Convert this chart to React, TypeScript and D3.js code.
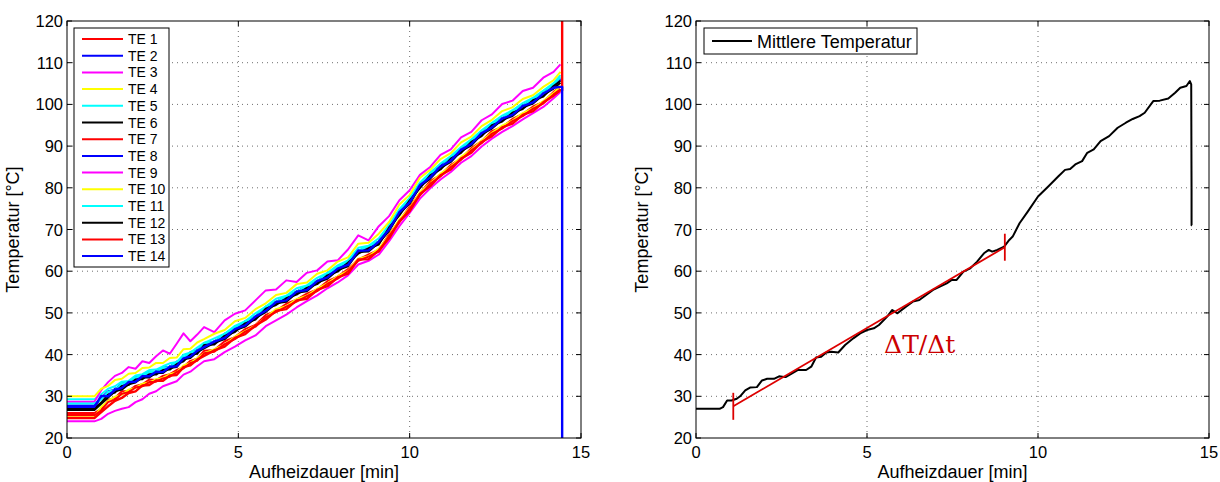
import React from 'react';
import * as d3 from 'd3';

// ---------- data ----------
const timeMin = [0, 0.8, 1.0, 1.2, 1.4, 1.6, 1.8, 2.0, 2.2, 2.4, 2.6, 2.8, 3.0, 3.2, 3.4, 3.6, 3.8, 4.0, 4.3, 4.6, 4.9, 5.2, 5.5, 5.8, 6.1, 6.4, 6.7, 7.0, 7.3, 7.6, 7.9, 8.2, 8.5, 8.8, 9.1, 9.4, 9.7, 10.0, 10.3, 10.6, 10.9, 11.2, 11.5, 11.8, 12.1, 12.4, 12.7, 13.0, 13.3, 13.6, 13.9, 14.2, 14.4];

const te1 = [26, 26, 27.0, 29.1, 29.6, 31.2, 31.3, 32.5, 32.9, 34.0, 33.9, 34.9, 35.3, 36.3, 37.0, 38.5, 39.0, 40.9, 41.1, 43.2, 44.2, 46.1, 47.1, 49.5, 50.5, 52.2, 53.2, 54.6, 55.6, 57.6, 58.7, 60.5, 62.8, 64.0, 65.1, 68.9, 72.1, 75.5, 78.7, 81.6, 83.1, 85.5, 87.0, 89.5, 91.2, 93.6, 94.6, 96.5, 97.7, 99.5, 100.6, 103.0, 104.3];
const te2 = [27.8, 27.8, 29.6, 31.2, 31.6, 33.1, 33.4, 34.6, 34.8, 35.9, 35.9, 36.9, 37.1, 38.3, 39.0, 40.6, 40.9, 42.8, 43.1, 45.0, 46.1, 48.0, 49.1, 51.5, 52.6, 54.0, 55.1, 56.5, 57.6, 59.5, 60.6, 62.4, 64.8, 66.0, 67.1, 71.0, 74.1, 77.5, 80.6, 83.5, 85.1, 87.4, 89.1, 91.4, 93.1, 95.4, 96.6, 98.4, 99.6, 101.4, 102.6, 104.9, 106.2];
const te3 = [24, 24, 24.6, 25.8, 26.5, 27.0, 27.4, 28.6, 29.3, 30.6, 31.2, 32.4, 33.0, 33.6, 35.2, 35.9, 37.2, 38.4, 38.9, 40.6, 41.9, 43.4, 44.6, 46.8, 48.2, 49.6, 51.3, 52.8, 54.2, 55.9, 57.3, 59.0, 61.6, 62.5, 64.0, 67.2, 70.8, 74.0, 77.4, 79.9, 82.0, 83.8, 86.0, 87.6, 89.9, 91.8, 93.4, 94.8, 96.4, 97.9, 99.4, 101.5, 103.0];
const te4 = [25, 25, 27.5, 28.9, 29.9, 30.4, 31.6, 32.0, 33.0, 33.3, 34.1, 34.4, 35.3, 35.8, 37.4, 38.0, 39.1, 40.3, 41.3, 42.4, 44.3, 45.6, 47.0, 48.9, 50.9, 51.6, 53.3, 54.1, 55.8, 57.1, 58.8, 60.1, 63.0, 63.6, 65.4, 68.6, 72.4, 75.1, 78.9, 81.1, 83.4, 85.1, 87.4, 89.1, 91.3, 93.2, 94.9, 96.1, 97.9, 99.1, 100.8, 102.7, 104.5];
const te5 = [29.3, 29.3, 30.5, 31.8, 32.4, 33.5, 33.7, 35.0, 35.3, 36.3, 36.4, 37.2, 37.9, 38.2, 40.0, 40.5, 41.7, 42.8, 43.9, 45.0, 46.9, 48.0, 49.9, 51.5, 53.4, 54.1, 55.9, 56.6, 58.4, 59.6, 61.4, 62.6, 65.6, 66.1, 67.9, 71.1, 74.9, 77.6, 81.3, 83.6, 85.8, 87.6, 89.8, 91.6, 93.8, 95.6, 97.3, 98.6, 100.3, 101.6, 103.3, 105.1, 107.0];
const te6 = [26.7, 26.7, 28.2, 29.7, 31.2, 31.6, 32.9, 33.3, 34.5, 34.5, 35.6, 35.6, 36.8, 37.0, 38.9, 39.2, 40.6, 41.5, 42.8, 43.7, 45.8, 46.7, 48.8, 50.2, 52.3, 52.7, 54.8, 55.2, 57.3, 58.2, 60.3, 61.2, 64.6, 64.7, 66.8, 69.7, 73.8, 76.2, 80.3, 82.2, 84.8, 86.2, 88.8, 90.2, 92.8, 94.2, 96.3, 97.2, 99.3, 100.2, 102.3, 103.8, 105.2];
const te7 = [25.5, 25.5, 26.6, 28.6, 29.2, 30.6, 31.0, 32.1, 32.4, 33.4, 33.5, 34.3, 34.7, 35.8, 36.7, 38.0, 38.5, 40.3, 40.7, 42.5, 43.7, 45.5, 46.7, 49.0, 50.2, 51.5, 52.7, 54.0, 55.2, 57.0, 58.2, 60.0, 62.5, 63.5, 64.7, 68.5, 71.7, 75.0, 78.2, 81.0, 82.7, 85.0, 86.7, 89.0, 90.7, 93.0, 94.2, 96.0, 97.2, 99.0, 100.2, 102.4, 103.6];
const te8 = [27.2, 27.2, 29.9, 30.3, 31.8, 32.3, 33.5, 33.9, 34.9, 35.1, 36.0, 36.2, 37.2, 37.5, 39.3, 39.8, 41.1, 42.1, 43.2, 44.3, 46.2, 47.3, 49.2, 50.8, 52.7, 53.3, 55.2, 55.8, 57.7, 58.8, 60.7, 61.8, 65.0, 65.3, 67.2, 70.3, 74.2, 76.8, 80.7, 82.8, 85.2, 86.8, 89.2, 90.8, 93.2, 94.8, 96.7, 97.8, 99.7, 100.8, 102.7, 104.3, 105.9];
const te9 = [28.7, 28.7, 31.5, 33.4, 34.9, 35.6, 37.0, 36.6, 38.4, 38.0, 39.6, 41.0, 40.2, 42.6, 45.1, 43.2, 44.8, 46.6, 45.4, 48.2, 49.8, 50.6, 53.0, 55.4, 55.6, 57.8, 57.4, 59.6, 60.2, 62.3, 62.6, 65.2, 68.6, 67.4, 70.8, 73.2, 77.0, 79.4, 83.1, 85.0, 87.9, 89.2, 92.1, 93.4, 96.2, 97.6, 100.1, 100.9, 103.2, 104.0, 106.4, 107.8, 109.6];
const te10 = [30, 30, 31.8, 32.5, 33.9, 34.2, 35.4, 35.6, 36.8, 36.9, 38.0, 38.0, 39.2, 39.3, 41.3, 41.4, 42.9, 43.7, 45.0, 45.9, 48.0, 48.8, 50.9, 52.3, 54.3, 54.8, 56.9, 57.3, 59.4, 60.2, 62.3, 63.3, 66.6, 66.8, 69.0, 71.8, 76.0, 78.3, 82.4, 84.3, 86.9, 88.3, 90.9, 92.3, 94.8, 96.3, 98.4, 99.3, 101.3, 102.2, 104.2, 105.8, 107.8];
const te11 = [28.3, 28.3, 29.2, 31.1, 31.5, 33.0, 33.4, 34.5, 34.9, 35.8, 35.9, 36.8, 37.1, 38.2, 39.4, 40.5, 40.9, 42.7, 43.1, 45.0, 46.5, 48.0, 49.1, 51.5, 52.6, 54.0, 55.1, 56.4, 57.6, 59.5, 61.0, 62.4, 64.9, 66.0, 67.1, 71.0, 74.1, 77.5, 80.6, 83.5, 84.8, 87.4, 89.1, 91.4, 93.1, 95.4, 96.6, 98.4, 99.6, 101.4, 102.6, 104.8, 106.5];
const te12 = [27, 27, 28.5, 30.4, 30.9, 32.5, 32.7, 34.0, 34.1, 35.3, 35.2, 36.3, 36.4, 37.7, 38.4, 40.0, 40.2, 42.3, 42.4, 44.5, 45.4, 47.5, 48.4, 51.0, 51.9, 53.5, 54.4, 56.0, 56.9, 59.0, 59.9, 62.0, 64.2, 65.5, 66.4, 70.5, 73.4, 77.0, 79.9, 83.0, 84.4, 87.0, 88.4, 91.0, 92.4, 95.0, 95.9, 98.0, 98.9, 101.0, 101.9, 104.4, 105.6];
const te13 = [24.8, 24.8, 26.2, 27.6, 28.9, 29.6, 30.8, 31.2, 32.6, 32.7, 33.8, 33.7, 35.0, 35.1, 37.0, 37.4, 38.8, 39.7, 41.0, 41.9, 44.0, 44.9, 47.0, 48.4, 50.5, 50.9, 53.0, 53.4, 55.5, 56.4, 58.5, 59.4, 62.8, 62.9, 65.0, 67.9, 72.0, 74.4, 78.5, 80.4, 83.0, 84.4, 87.0, 88.4, 91.0, 92.4, 94.5, 95.4, 97.5, 98.4, 100.5, 102.1, 103.4];
const te14 = [27.5, 27.5, 30.1, 30.0, 31.6, 32.0, 33.4, 33.5, 34.8, 34.8, 35.9, 35.8, 37.1, 37.2, 39.1, 39.5, 40.9, 41.8, 43.1, 44.0, 46.1, 47.0, 49.1, 50.5, 52.6, 53.0, 55.1, 55.5, 57.6, 58.5, 60.6, 61.5, 64.9, 65.0, 67.1, 70.0, 74.1, 76.5, 80.6, 82.5, 85.1, 86.5, 89.1, 90.5, 93.1, 94.5, 96.6, 97.5, 99.6, 100.5, 102.6, 104.0, 104.2];

// sensor failure at the end of the run (values leave the axis range)
const failTime = 14.45;
const failValues = [null, null, null, null, null, null, null, null, null, null, null, null, 135, 0];

const teSeries = [te1, te2, te3, te4, te5, te6, te7, te8, te9, te10, te11, te12, te13, te14];
const teNames = ['TE 1', 'TE 2', 'TE 3', 'TE 4', 'TE 5', 'TE 6', 'TE 7', 'TE 8', 'TE 9', 'TE 10', 'TE 11', 'TE 12', 'TE 13', 'TE 14'];
const teColors = ['#ff0000', '#0000ff', '#ff00ff', '#ffff00', '#00ffff', '#000000', '#ff0000', '#0000ff', '#ff00ff', '#ffff00', '#00ffff', '#000000', '#ff0000', '#0000ff'];

const meanTime = [0, 0.69, 0.79, 0.91, 1.04, 1.19, 1.29, 1.44, 1.58, 1.78, 1.93, 2.08, 2.28, 2.43, 2.62, 2.77, 2.97, 3.22, 3.37, 3.51, 3.66, 3.81, 3.96, 4.16, 4.36, 4.6, 4.8, 5.0, 5.2, 5.35, 5.59, 5.74, 5.89, 6.14, 6.34, 6.53, 6.73, 6.93, 7.13, 7.33, 7.48, 7.62, 7.82, 8.02, 8.22, 8.42, 8.56, 8.66, 8.81, 9.01, 9.16, 9.26, 9.46, 9.7, 10.0, 10.3, 10.59, 10.79, 10.94, 11.09, 11.29, 11.44, 11.63, 11.83, 12.08, 12.33, 12.57, 12.77, 12.97, 13.12, 13.37, 13.56, 13.81, 14.01, 14.16, 14.34, 14.44, 14.48, 14.49, 14.49, 14.5];
const meanTemp = [27.0, 27.0, 27.4, 29.0, 29.0, 29.4, 30.0, 31.4, 32.1, 32.2, 33.8, 34.2, 34.2, 34.8, 34.6, 35.3, 36.3, 36.3, 37.1, 39.3, 39.5, 40.5, 40.7, 40.5, 42.3, 43.9, 45.1, 45.9, 46.3, 47.1, 49.1, 50.7, 49.9, 51.5, 52.7, 53.1, 54.3, 55.5, 56.3, 57.1, 57.9, 57.9, 59.9, 60.7, 62.3, 64.3, 65.1, 64.7, 65.1, 65.9, 67.5, 68.3, 71.5, 74.3, 77.9, 80.3, 82.7, 84.3, 84.5, 85.6, 86.4, 88.4, 89.2, 91.2, 92.4, 94.4, 95.6, 96.5, 97.2, 98.0, 100.8, 100.9, 101.4, 102.8, 104.0, 104.4, 105.6, 104.8, 79.5, 71.0, 71.0];

const fitTime = [1.09, 9.03];
const fitTemp = [27.6, 65.75];
const fitLabel = 'ΔT/Δt';
const fitLabelPos = [5.5, 40.3];

const xTicks = [0, 5, 10, 15];
const yTicks = [20, 30, 40, 50, 60, 70, 80, 90, 100, 110, 120];
const xLabel = 'Aufheizdauer [min]';
const yLabel = 'Temperatur [°C]';
const meanName = 'Mittlere Temperatur';

// ---------- layout ----------
const W = 1220, H = 482;
const TOP = 21, BOTTOM = 438;
const FONT = "'Liberation Sans', Arial, Helvetica, sans-serif";

function Axes({ x0, x1, id, children }: { x0: number; x1: number; id: string; children: (x: any, y: any) => React.ReactNode }) {
  const x = d3.scaleLinear().domain([0, 15]).range([x0, x1]);
  const y = d3.scaleLinear().domain([20, 120]).range([BOTTOM, TOP]);
  const tl = 5;
  return (
    <g>
      <defs>
        <clipPath id={id}>
          <rect x={x0} y={TOP} width={x1 - x0} height={BOTTOM - TOP} />
        </clipPath>
      </defs>
      <rect x={x0} y={TOP} width={x1 - x0} height={BOTTOM - TOP} fill="#fff" />
      {xTicks.slice(1, -1).map(t => (
        <line key={'gx' + t} x1={x(t)} x2={x(t)} y1={TOP} y2={BOTTOM} stroke="#6e6e6e" strokeWidth={1} strokeDasharray="1,4" />
      ))}
      {yTicks.slice(1, -1).map(t => (
        <line key={'gy' + t} x1={x0} x2={x1} y1={y(t)} y2={y(t)} stroke="#6e6e6e" strokeWidth={1} strokeDasharray="1,4" />
      ))}
      <g clipPath={`url(#${id})`}>{children(x, y)}</g>
      {xTicks.map(t => (
        <g key={'tx' + t}>
          <line x1={x(t)} x2={x(t)} y1={BOTTOM} y2={BOTTOM - tl} stroke="#000" />
          <line x1={x(t)} x2={x(t)} y1={TOP} y2={TOP + tl} stroke="#000" />
          <text x={x(t)} y={BOTTOM + 20} textAnchor="middle" fontSize={16.5} fontFamily={FONT} fill="#000">{t}</text>
        </g>
      ))}
      {yTicks.map(t => (
        <g key={'ty' + t}>
          <line x1={x0} x2={x0 + tl} y1={y(t)} y2={y(t)} stroke="#000" />
          <line x1={x1} x2={x1 - tl} y1={y(t)} y2={y(t)} stroke="#000" />
          <text x={x0 - 4} y={y(t) + 6} textAnchor="end" fontSize={16.5} fontFamily={FONT} fill="#000">{t}</text>
        </g>
      ))}
      <rect x={x0} y={TOP} width={x1 - x0} height={BOTTOM - TOP} fill="none" stroke="#000" strokeWidth={1} />
      <text x={(x0 + x1) / 2} y={BOTTOM + 40} textAnchor="middle" fontSize={18} fontFamily={FONT} fill="#000">{xLabel}</text>
      <text transform={`translate(${x0 - 48},${(TOP + BOTTOM) / 2}) rotate(-90)`} textAnchor="middle" fontSize={18} fontFamily={FONT} fill="#000">{yLabel}</text>
    </g>
  );
}

export default function App() {
  const leftX0 = 67, leftX1 = 581;
  const rightX0 = 696, rightX1 = 1209;

  return (
    <svg width={W} height={H} style={{ position: 'absolute', left: 0, top: 0, background: '#fff' }}>
      <rect width={W} height={H} fill="#fff" />
      <Axes x0={leftX0} x1={leftX1} id="clipL">
        {(x, y) => {
          const line = d3.line<[number, number]>().x(d => x(d[0])).y(d => y(d[1]));
          return teSeries.map((s, i) => {
            const pts: [number, number][] = s.map((v, j) => [timeMin[j], v]);
            const f = failValues[i];
            if (f !== null) {
              pts.push([failTime, s[s.length - 1]]);
              pts.push([failTime, f]);
            }
            return <path key={i} d={line(pts) || ''} fill="none" stroke={teColors[i]} strokeWidth={f !== null ? 2.4 : 2} strokeLinejoin="round" />;
          });
        }}
      </Axes>
      <g>
        <rect x={74} y={28} width={95} height={239} fill="#fff" stroke="#000" strokeWidth={1} />
        {teNames.map((n, i) => {
          const cy = 39 + i * 16.7;
          return (
            <g key={n}>
              <line x1={82} x2={123} y1={cy} y2={cy} stroke={teColors[i]} strokeWidth={2} />
              <text x={128} y={cy + 5} fontSize={14} fontFamily={FONT} fill="#000">{n}</text>
            </g>
          );
        })}
      </g>

      <Axes x0={rightX0} x1={rightX1} id="clipR">
        {(x, y) => {
          const line = d3.line<[number, number]>().x(d => x(d[0])).y(d => y(d[1]));
          const meanPts: [number, number][] = meanTime.map((t, j) => [t, meanTemp[j]]);
          const fitPts: [number, number][] = fitTime.map((t, j) => [t, fitTemp[j]]);
          return (
            <g>
              <path d={line(meanPts) || ''} fill="none" stroke="#000" strokeWidth={2} strokeLinejoin="round" />
              <path d={line(fitPts) || ''} fill="none" stroke="#dd0000" strokeWidth={1.8} />
              {fitPts.map((p, j) => (
                <line key={j} x1={x(p[0])} x2={x(p[0])} y1={y(p[1]) - 13.5} y2={y(p[1]) + 13.5} stroke="#dd0000" strokeWidth={1.8} />
              ))}
              <text x={x(fitLabelPos[0])} y={y(fitLabelPos[1])} fontSize={25} fontFamily="'DejaVu Serif', 'Liberation Serif', serif" fill="#cc0000">{fitLabel}</text>
            </g>
          );
        }}
      </Axes>
      <g>
        <rect x={704} y={28} width={213} height={26} fill="#fff" stroke="#000" strokeWidth={1} />
        <line x1={712} x2={752} y1={41} y2={41} stroke="#000" strokeWidth={2} />
        <text x={757} y={47.5} fontSize={18} fontFamily={FONT} fill="#000">{meanName}</text>
      </g>
    </svg>
  );
}
